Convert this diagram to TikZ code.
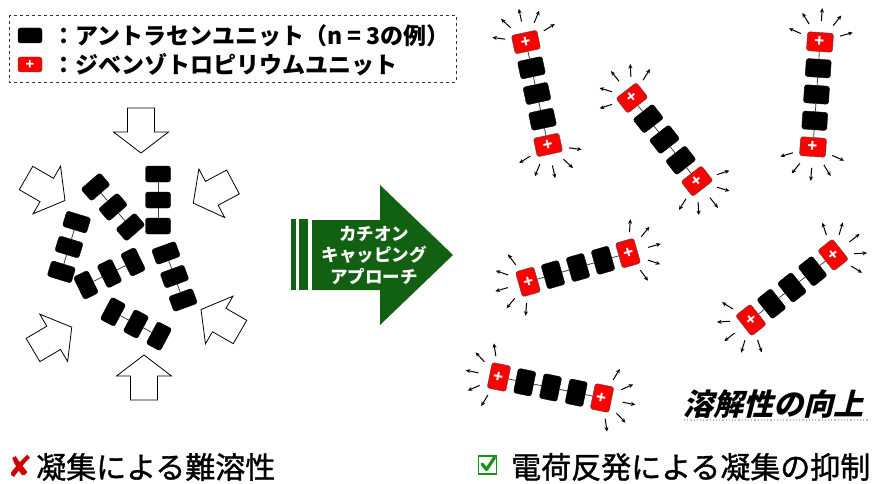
\documentclass[tikz,border=0pt]{standalone}
\usepackage{fontspec}
\setmainfont{Noto Sans CJK JP}
\newfontfamily\jpmed[FakeBold=1.2]{Noto Sans CJK JP}
\newfontfamily\jpslant[FakeSlant=0.25]{Noto Sans CJK JP}
\newfontfamily\symfont{DejaVu Sans}
\usetikzlibrary{arrows.meta,calc}

\definecolor{capgreen}{RGB}{18,96,18}
\definecolor{okgreen}{RGB}{20,150,20}
\definecolor{ngred}{RGB}{205,0,0}

\tikzset{
  blk/.style={draw=black, fill=black, rounded corners=2.5pt, minimum width=25pt,
    minimum height=18pt, inner sep=0pt, line width=0.4pt},
  lblk/.style={blk, minimum height=16pt},
  catunit/.style={draw=black!70, fill=red, rounded corners=2.5pt, minimum width=26pt,
    minimum height=19pt, inner sep=0pt, text=white,
    font=\bfseries\fontsize{16}{16}\selectfont},
  link/.style={draw=black!75, line width=0.8pt},
  push/.style={-{Stealth[length=4.5pt,width=4pt]}, line width=1pt},
  hollow/.style={draw=black, fill=white, line width=0.8pt, line join=miter},
  legtext/.style={anchor=west, inner sep=0pt, font=\bfseries\fontsize{23}{23}\selectfont},
  bigtext/.style={anchor=west, inner sep=0pt, font=\jpmed\fontsize{30}{30}\selectfont},
}

% capped chain: red end units, three black units, radiating arrows
\newcommand\capchain[4]{%
  \begin{scope}[shift={#2}, rotate=#3, transform shape]
    \node[catunit] (#1a) at (0,2*#4) {+};
    \node[blk]     (#1b) at (0,#4) {};
    \node[blk]     (#1c) at (0,0) {};
    \node[blk]     (#1d) at (0,-#4) {};
    \node[catunit] (#1e) at (0,-2*#4) {+};
    \draw[link] (#1a) -- (#1b) -- (#1c) -- (#1d) -- (#1e);
    \foreach \a in {20,55,90,125,160}
      \draw[push] ([shift={(0,2*#4)}]\a:21) -- ([shift={(0,2*#4)}]\a:34);
    \foreach \a in {-20,-55,-90,-125,-160}
      \draw[push] ([shift={(0,-2*#4)}]\a:21) -- ([shift={(0,-2*#4)}]\a:34);
  \end{scope}}

% bare chain of three black units
\newcommand\barechain[4]{%
  \begin{scope}[shift={#2}, rotate=#3, transform shape]
    \node[lblk] (#1a) at (0,#4) {};
    \node[lblk] (#1b) at (0,0) {};
    \node[lblk] (#1c) at (0,-#4) {};
    \draw[link] (#1a) -- (#1b) -- (#1c);
  \end{scope}}

% hollow block arrow, tail centre at #1, pointing along angle #2
\newcommand\blockarrow[2]{%
  \draw[hollow, shift={#1}, rotate=#2]
    (0,-13.5) -- (24,-13.5) -- (24,-27.5) -- (45,0) -- (24,27.5) -- (24,13.5)
    -- (0,13.5) -- cycle;}

\begin{document}
\begin{tikzpicture}[x=1pt,y=1pt]
\useasboundingbox (0,0) rectangle (872,483);

% legend
\draw[dashed, draw=black!80, line width=0.8pt] (9,468) rectangle (456,401);
\node[blk, minimum width=24pt, minimum height=15pt] (legblk) at (30,447.5) {};
\node[catunit, minimum width=24pt, minimum height=15pt,
      font=\bfseries\fontsize{14}{14}\selectfont] (legcat) at (30,418.5) {+};
\node[legtext] (legA) at (52,447.5) {：アントラセンユニット（n = 3の例）};
\node[legtext] (legB) at (52,418.5) {：ジベンゾトロピリウムユニット};

% aggregated anthracene chains
\barechain{p}{(158,283)}{0}{26}
\barechain{q}{(113,276)}{41}{26.6}
\barechain{r}{(69,236)}{-17}{26}
\barechain{s}{(109.5,209.5)}{-64}{26.2}
\barechain{t}{(174.5,206.5)}{20}{25}
\barechain{u}{(136,159)}{62}{26}

% compressing arrows
\blockarrow{(141,375)}{-90}
\blockarrow{(144,83)}{90}
\blockarrow{(26,305)}{-30}
\blockarrow{(233,301)}{-152}
\blockarrow{(33,133)}{30.5}
\blockarrow{(240,151)}{150}

% cation capping arrow
\fill[capgreen] (291,193) rectangle (296,264);
\fill[capgreen] (299,193) rectangle (308,264);
\fill[capgreen] (312,193) -- (380,193) -- (380,158) -- (453,228) -- (380,298)
  -- (380,263) -- (312,263) -- cycle;
\node[text=white, align=center, inner sep=0pt,
      font=\bfseries\fontsize{17.5}{21.5}\selectfont] (cap) at (374,228)
  {カチオン\\キャッピング\\アプローチ};

% dispersed capped chains
\capchain{A}{(537,389.5)}{12.1}{26.3}
\capchain{B}{(664.5,343.5)}{38}{26.4}
\capchain{C}{(816.5,388.5)}{-3.8}{26.3}
\capchain{D}{(578,215.5)}{-74}{26}
\capchain{E}{(792,195.5)}{-51.6}{26.2}
\capchain{F}{(550.5,95.5)}{78.5}{26.3}

% solubility label
\draw[draw={rgb,255:red,175;green,205;blue,170}, line width=1.2pt, dotted]
  (684,63) -- (868,63);
\node[inner sep=0pt, font=\jpslant\bfseries\fontsize{30}{30}\selectfont] (sol)
  at (773,79) {溶解性の向上};

% bottom captions
\node[inner sep=0pt, text=ngred, font=\symfont\bfseries\fontsize{30}{30}\selectfont]
  (ng) at (20,17) {✘};
\node[bigtext] (capL) at (36,16) {凝集による難溶性};
\draw[okgreen, line width=1.8pt] (478.5,9) rectangle (496.5,27);
\draw[okgreen, line width=3.2pt, line join=round, line cap=round]
  (482,19) -- (486.5,13.5) -- (494.5,25.5);
\node[bigtext] (capR) at (511,16) {電荷反発による凝集の抑制};
\end{tikzpicture}
\end{document}
